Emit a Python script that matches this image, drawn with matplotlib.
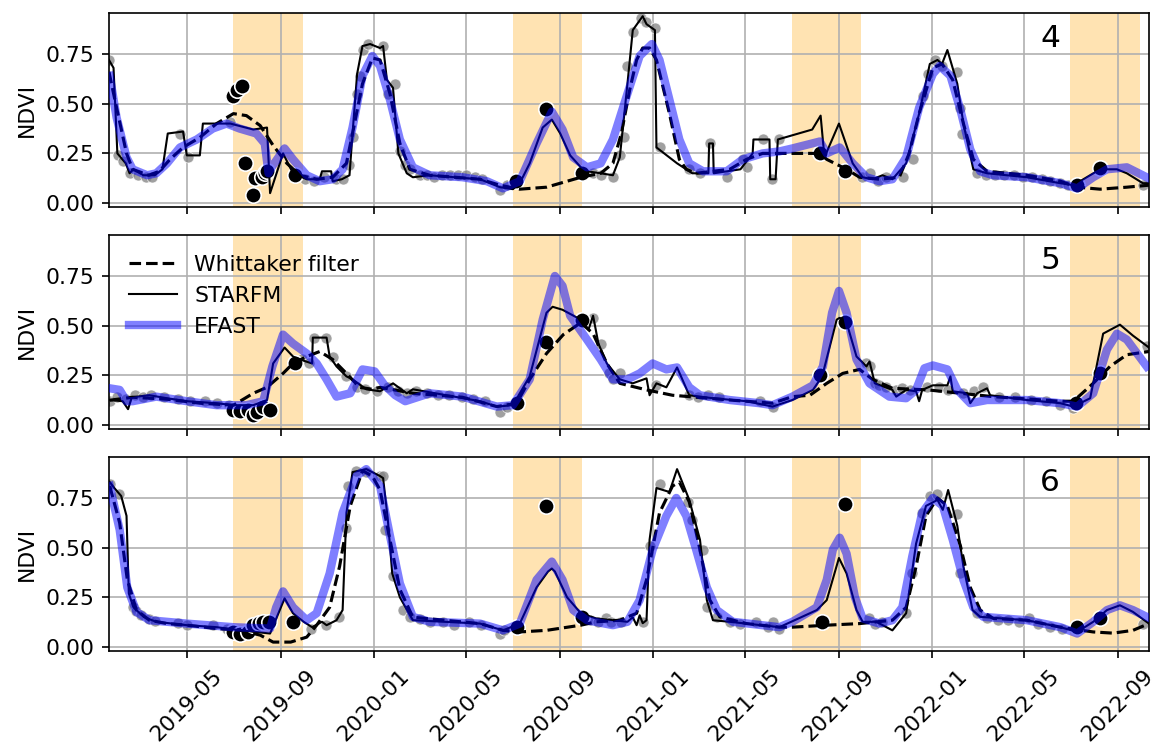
import numpy as np
import pandas as pd
import matplotlib
matplotlib.use('Agg')
import matplotlib.pyplot as plt

# summer windows (shaded)
span_start = ['2019-07-01', '2020-07-01', '2021-07-01', '2022-07-01']
span_end = ['2019-09-30', '2020-09-30', '2021-09-30', '2022-09-30']
panel_labels = ['4', '5', '6']

# ---------------- panel 4 ----------------
p4_whit_d = ['2019-01-19', '2019-01-29', '2019-02-11', '2019-02-19', '2019-03-12', '2019-03-26', '2019-04-09',
             '2019-04-26', '2019-05-18', '2019-06-09', '2019-07-01', '2019-07-18', '2019-08-05', '2019-08-22',
             '2019-09-09', '2019-09-26', '2019-10-18', '2019-11-08', '2019-11-26', '2019-12-04', '2019-12-17',
             '2019-12-30', '2020-01-09', '2020-01-22', '2020-02-04', '2020-02-17', '2020-03-14', '2020-05-19',
             '2020-06-14', '2020-07-10', '2020-08-14', '2020-09-28', '2020-10-24', '2020-11-09', '2020-11-20',
             '2020-12-01', '2020-12-10', '2020-12-18', '2020-12-27', '2021-01-05', '2021-01-22', '2021-02-04',
             '2021-02-13', '2021-02-26', '2021-04-11', '2021-05-03', '2021-05-24', '2021-08-07', '2021-08-16',
             '2021-09-11', '2021-09-28', '2021-10-24', '2021-11-19', '2021-12-02', '2021-12-15', '2022-01-02',
             '2022-01-14', '2022-01-28', '2022-02-11', '2022-02-24', '2022-03-14', '2022-05-05', '2022-06-18',
             '2022-07-10', '2022-08-09', '2022-09-13', '2022-10-12']
p4_whit_v = [0.66, 0.48, 0.25, 0.17, 0.14, 0.16, 0.22, 0.28, 0.33, 0.40, 0.45, 0.44, 0.39, 0.29, 0.20, 0.14,
             0.12, 0.13, 0.20, 0.35, 0.60, 0.73, 0.72, 0.55, 0.30, 0.17, 0.14, 0.12, 0.09, 0.07, 0.08, 0.13,
             0.15, 0.20, 0.35, 0.57, 0.72, 0.78, 0.78, 0.72, 0.45, 0.22, 0.17, 0.15, 0.17, 0.22, 0.25, 0.25,
             0.22, 0.17, 0.13, 0.12, 0.13, 0.25, 0.45, 0.68, 0.70, 0.62, 0.40, 0.22, 0.16, 0.14, 0.11, 0.08,
             0.07, 0.08, 0.09]

p4_starfm_d = ['2019-01-19', '2019-01-25', '2019-01-30', '2019-02-10', '2019-02-15', '2019-02-20', '2019-03-05',
               '2019-03-20', '2019-03-30', '2019-04-06', '2019-04-26', '2019-05-01', '2019-05-18', '2019-05-22',
               '2019-06-04', '2019-06-27', '2019-07-27', '2019-08-14', '2019-08-18', '2019-09-04', '2019-09-17',
               '2019-10-05', '2019-10-22', '2019-10-25', '2019-11-06', '2019-11-08', '2019-11-20', '2019-11-30',
               '2019-12-05', '2019-12-10', '2019-12-17', '2019-12-27', '2020-01-09', '2020-01-13', '2020-01-18',
               '2020-01-26', '2020-02-02', '2020-02-13', '2020-02-21', '2020-03-14', '2020-05-19', '2020-06-14',
               '2020-07-01', '2020-07-10', '2020-07-23', '2020-08-09', '2020-08-21', '2020-09-01', '2020-09-14',
               '2020-09-28', '2020-10-06', '2020-10-24', '2020-11-09', '2020-11-18', '2020-11-28', '2020-12-05',
               '2020-12-18', '2020-12-23', '2021-01-03', '2021-01-05', '2021-02-01', '2021-02-21', '2021-03-14',
               '2021-03-15', '2021-03-20', '2021-03-21', '2021-04-25', '2021-05-11', '2021-05-12', '2021-06-02',
               '2021-06-03', '2021-06-10', '2021-06-13', '2021-07-28', '2021-08-08', '2021-08-13', '2021-09-01',
               '2021-09-19', '2021-10-02', '2021-10-15', '2021-10-28', '2021-11-10', '2021-11-28', '2021-12-15',
               '2021-12-29', '2022-01-08', '2022-01-14', '2022-01-21', '2022-02-03', '2022-02-11', '2022-02-24',
               '2022-03-14', '2022-05-05', '2022-06-18', '2022-07-05', '2022-08-09', '2022-08-31', '2022-09-13',
               '2022-10-04', '2022-10-12']
p4_starfm_v = [0.72, 0.68, 0.25, 0.20, 0.15, 0.17, 0.14, 0.14, 0.17, 0.35, 0.36, 0.24, 0.24, 0.40, 0.40, 0.40,
               0.37, 0.38, 0.05, 0.25, 0.15, 0.12, 0.12, 0.16, 0.16, 0.11, 0.12, 0.14, 0.40, 0.65, 0.79, 0.80,
               0.78, 0.79, 0.62, 0.58, 0.25, 0.15, 0.13, 0.14, 0.12, 0.08, 0.07, 0.10, 0.20, 0.38, 0.42, 0.35,
               0.24, 0.18, 0.16, 0.15, 0.14, 0.23, 0.60, 0.87, 0.94, 0.90, 0.87, 0.28, 0.20, 0.15, 0.15, 0.30,
               0.30, 0.15, 0.17, 0.25, 0.32, 0.32, 0.12, 0.12, 0.32, 0.37, 0.44, 0.23, 0.40, 0.20, 0.13, 0.12,
               0.14, 0.12, 0.20, 0.45, 0.70, 0.72, 0.70, 0.77, 0.60, 0.40, 0.17, 0.15, 0.13, 0.10, 0.09, 0.17,
               0.17, 0.15, 0.10, 0.10]

p4_efast_d = ['2019-01-20', '2019-01-29', '2019-02-11', '2019-02-19', '2019-03-10', '2019-03-22', '2019-04-05',
              '2019-04-22', '2019-05-14', '2019-06-04', '2019-06-22', '2019-07-09', '2019-07-31', '2019-08-11',
              '2019-08-16', '2019-08-20', '2019-09-06', '2019-09-17', '2019-10-05', '2019-10-22', '2019-11-08',
              '2019-11-21', '2019-12-04', '2019-12-17', '2019-12-30', '2020-01-09', '2020-01-22', '2020-02-04',
              '2020-02-21', '2020-03-14', '2020-04-26', '2020-05-28', '2020-06-18', '2020-07-10', '2020-08-01',
              '2020-08-21', '2020-09-04', '2020-09-18', '2020-10-06', '2020-10-24', '2020-11-09', '2020-11-28',
              '2020-12-14', '2020-12-30', '2021-01-09', '2021-01-22', '2021-02-04', '2021-02-17', '2021-03-07',
              '2021-04-07', '2021-04-28', '2021-05-24', '2021-06-15', '2021-07-02', '2021-08-07', '2021-08-16',
              '2021-09-02', '2021-09-19', '2021-10-07', '2021-10-24', '2021-11-10', '2021-11-28', '2021-12-15',
              '2022-01-02', '2022-01-11', '2022-01-25', '2022-02-07', '2022-02-20', '2022-03-05', '2022-03-22',
              '2022-05-05', '2022-06-18', '2022-07-10', '2022-07-31', '2022-08-18', '2022-09-13', '2022-10-09']
p4_efast_v = [0.64, 0.43, 0.23, 0.17, 0.14, 0.15, 0.20, 0.28, 0.32, 0.375, 0.40, 0.375, 0.35, 0.30, 0.15, 0.18,
              0.275, 0.22, 0.14, 0.11, 0.12, 0.17, 0.38, 0.64, 0.74, 0.69, 0.52, 0.32, 0.18, 0.14, 0.13, 0.11,
              0.074, 0.11, 0.30, 0.46, 0.37, 0.23, 0.18, 0.20, 0.32, 0.55, 0.74, 0.80, 0.72, 0.52, 0.32, 0.20,
              0.16, 0.16, 0.22, 0.25, 0.26, 0.275, 0.31, 0.25, 0.28, 0.20, 0.13, 0.11, 0.12, 0.23, 0.48, 0.65,
              0.69, 0.64, 0.47, 0.27, 0.16, 0.14, 0.13, 0.10, 0.074, 0.13, 0.17, 0.18, 0.13]

p4_grey_d = ['2019-01-19', '2019-01-31', '2019-02-06', '2019-02-16', '2019-02-26', '2019-03-08', '2019-03-16',
             '2019-04-22', '2019-05-02', '2019-06-27', '2019-10-03', '2019-10-15', '2019-10-28', '2019-11-12',
             '2019-11-22', '2019-11-30', '2019-12-05', '2019-12-10', '2019-12-14', '2019-12-18', '2019-12-24',
             '2020-01-13', '2020-01-20', '2020-01-29', '2020-02-04', '2020-02-11', '2020-02-17', '2020-03-01',
             '2020-03-10', '2020-03-20', '2020-03-30', '2020-04-10', '2020-04-20', '2020-05-01', '2020-05-12',
             '2020-05-22', '2020-06-14', '2020-06-23', '2020-10-14', '2020-10-24', '2020-11-09', '2020-11-18',
             '2020-11-24', '2020-11-28', '2020-12-05', '2020-12-16', '2020-12-22', '2021-01-03', '2021-01-09',
             '2021-02-17', '2021-03-03', '2021-03-16', '2021-04-07', '2021-04-28', '2021-05-03', '2021-05-24',
             '2021-06-05', '2021-06-14', '2021-10-01', '2021-10-12', '2021-10-22', '2021-11-02', '2021-11-24',
             '2021-12-07', '2021-12-20', '2021-12-27', '2022-01-05', '2022-01-14', '2022-02-03', '2022-02-07',
             '2022-02-09', '2022-03-01', '2022-03-12', '2022-03-25', '2022-04-05', '2022-04-18', '2022-04-30',
             '2022-05-12', '2022-05-25', '2022-06-05', '2022-06-18', '2022-06-28', '2022-10-04']
p4_grey_v = [0.72, 0.24, 0.21, 0.15, 0.14, 0.13, 0.13, 0.35, 0.23, 0.41, 0.12, 0.11, 0.13, 0.12, 0.12, 0.19,
             0.33, 0.55, 0.64, 0.77, 0.80, 0.79, 0.55, 0.60, 0.26, 0.19, 0.17, 0.14, 0.14, 0.13, 0.14, 0.14,
             0.14, 0.14, 0.13, 0.12, 0.065, 0.09, 0.15, 0.14, 0.13, 0.24, 0.33, 0.69, 0.86, 0.93, 0.91, 0.88,
             0.28, 0.17, 0.15, 0.30, 0.13, 0.22, 0.18, 0.32, 0.12, 0.32, 0.13, 0.15, 0.11, 0.13, 0.13, 0.22,
             0.54, 0.65, 0.72, 0.69, 0.66, 0.48, 0.35, 0.15, 0.14, 0.14, 0.14, 0.14, 0.13, 0.13, 0.12, 0.11,
             0.10, 0.09, 0.09]

p4_black_d = ['2019-07-01', '2019-07-06', '2019-07-12', '2019-07-16', '2019-07-27', '2019-07-29', '2019-08-08',
              '2019-08-11', '2019-08-14', '2019-09-20', '2020-07-05', '2020-08-14', '2020-09-30', '2021-08-07',
              '2021-09-09', '2022-07-10', '2022-08-09']
p4_black_v = [0.54, 0.57, 0.59, 0.20, 0.04, 0.125, 0.13, 0.15, 0.16, 0.14, 0.11, 0.475, 0.15, 0.25, 0.16,
              0.09, 0.175]

# ---------------- panel 5 ----------------
p5_whit_d = ['2019-01-20', '2019-02-19', '2019-04-05', '2019-05-18', '2019-07-01', '2019-07-27', '2019-08-14',
             '2019-09-04', '2019-09-17', '2019-10-05', '2019-10-22', '2019-11-08', '2019-11-26', '2019-12-13',
             '2019-12-30', '2020-01-09', '2020-02-21', '2020-04-26', '2020-06-10', '2020-07-06', '2020-07-23',
             '2020-08-14', '2020-09-05', '2020-09-28', '2020-10-14', '2020-11-01', '2020-11-18', '2020-12-23',
             '2021-01-26', '2021-02-17', '2021-04-11', '2021-06-06', '2021-07-02', '2021-07-25', '2021-08-16',
             '2021-09-06', '2021-09-28', '2021-10-15', '2021-11-10', '2021-12-26', '2022-02-07', '2022-03-22',
             '2022-06-18', '2022-07-05', '2022-07-31', '2022-08-22', '2022-09-13', '2022-10-12']
p5_whit_v = [0.125, 0.14, 0.13, 0.11, 0.10, 0.16, 0.19, 0.26, 0.31, 0.345, 0.37, 0.33, 0.26, 0.19, 0.18, 0.19,
             0.16, 0.14, 0.093, 0.11, 0.23, 0.36, 0.455, 0.515, 0.46, 0.31, 0.21, 0.177, 0.15, 0.143, 0.126,
             0.11, 0.143, 0.15, 0.21, 0.26, 0.28, 0.23, 0.185, 0.177, 0.16, 0.143, 0.12, 0.12, 0.21, 0.295,
             0.354, 0.37]

p5_starfm_d = ['2019-01-20', '2019-02-06', '2019-02-13', '2019-02-18', '2019-03-13', '2019-04-05', '2019-05-01',
               '2019-06-09', '2019-07-01', '2019-07-27', '2019-08-14', '2019-08-22', '2019-09-06', '2019-09-17',
               '2019-09-26', '2019-10-12', '2019-10-13', '2019-10-31', '2019-11-04', '2019-11-13', '2019-11-26',
               '2019-12-04', '2019-12-22', '2020-01-09', '2020-01-26', '2020-02-13', '2020-02-21', '2020-04-05',
               '2020-05-19', '2020-06-10', '2020-07-01', '2020-07-23', '2020-08-14', '2020-08-22', '2020-09-04',
               '2020-09-28', '2020-10-08', '2020-10-14', '2020-10-21', '2020-11-01', '2020-11-18', '2020-12-05',
               '2020-12-23', '2020-12-27', '2021-01-05', '2021-01-18', '2021-02-01', '2021-02-17', '2021-03-20',
               '2021-05-03', '2021-06-06', '2021-07-02', '2021-07-29', '2021-08-10', '2021-08-29', '2021-09-02',
               '2021-09-11', '2021-09-24', '2021-10-07', '2021-10-11', '2021-10-18', '2021-11-10', '2021-11-15',
               '2021-11-28', '2021-12-11', '2021-12-15', '2021-12-19', '2022-01-02', '2022-01-21', '2022-01-25',
               '2022-01-28', '2022-02-16', '2022-02-20', '2022-03-01', '2022-03-14', '2022-03-18', '2022-05-05',
               '2022-06-18', '2022-07-05', '2022-07-27', '2022-08-13', '2022-09-04', '2022-09-21', '2022-10-12']
p5_starfm_v = [0.126, 0.12, 0.08, 0.14, 0.15, 0.135, 0.12, 0.11, 0.10, 0.10, 0.126, 0.31, 0.39, 0.345, 0.33,
               0.31, 0.44, 0.44, 0.345, 0.295, 0.245, 0.23, 0.18, 0.17, 0.21, 0.16, 0.18, 0.15, 0.12, 0.093,
               0.10, 0.245, 0.565, 0.595, 0.58, 0.53, 0.48, 0.55, 0.41, 0.31, 0.23, 0.21, 0.235, 0.15, 0.21,
               0.19, 0.29, 0.15, 0.135, 0.12, 0.093, 0.126, 0.177, 0.245, 0.53, 0.54, 0.515, 0.345, 0.295,
               0.32, 0.21, 0.177, 0.143, 0.177, 0.17, 0.12, 0.177, 0.20, 0.20, 0.245, 0.17, 0.16, 0.11, 0.16,
               0.185, 0.15, 0.126, 0.11, 0.093, 0.135, 0.46, 0.505, 0.45, 0.39]

p5_efast_d = ['2019-01-20', '2019-02-02', '2019-02-11', '2019-02-19', '2019-03-22', '2019-05-01', '2019-06-09',
              '2019-07-18', '2019-08-09', '2019-08-21', '2019-09-04', '2019-09-17', '2019-10-05', '2019-10-18',
              '2019-10-31', '2019-11-13', '2019-12-01', '2019-12-17', '2020-01-02', '2020-01-15', '2020-01-29',
              '2020-02-11', '2020-03-14', '2020-04-26', '2020-06-10', '2020-07-01', '2020-07-23', '2020-08-09',
              '2020-08-25', '2020-09-04', '2020-09-14', '2020-10-06', '2020-10-24', '2020-11-09', '2020-11-28',
              '2020-12-14', '2020-12-31', '2021-01-18', '2021-02-01', '2021-02-17', '2021-03-03', '2021-04-11',
              '2021-05-20', '2021-06-06', '2021-07-02', '2021-07-29', '2021-08-11', '2021-08-23', '2021-09-01',
              '2021-09-11', '2021-09-24', '2021-10-11', '2021-11-06', '2021-11-28', '2021-12-11', '2021-12-22',
              '2022-01-02', '2022-01-21', '2022-02-03', '2022-02-20', '2022-03-14', '2022-05-05', '2022-06-18',
              '2022-07-10', '2022-07-31', '2022-08-18', '2022-08-31', '2022-09-13', '2022-10-09']
p5_efast_v = [0.185, 0.177, 0.12, 0.12, 0.143, 0.12, 0.10, 0.10, 0.12, 0.295, 0.455, 0.41, 0.36, 0.31, 0.23,
              0.143, 0.16, 0.28, 0.27, 0.20, 0.15, 0.12, 0.16, 0.143, 0.093, 0.10, 0.23, 0.53, 0.75, 0.70,
              0.55, 0.43, 0.33, 0.23, 0.23, 0.26, 0.31, 0.28, 0.29, 0.19, 0.15, 0.126, 0.11, 0.10, 0.143,
              0.20, 0.295, 0.565, 0.675, 0.565, 0.33, 0.21, 0.143, 0.135, 0.177, 0.286, 0.30, 0.28, 0.177,
              0.11, 0.126, 0.126, 0.11, 0.093, 0.16, 0.38, 0.46, 0.43, 0.295]

p5_grey_d = ['2019-01-20', '2019-01-30', '2019-02-10', '2019-02-22', '2019-03-05', '2019-03-15', '2019-04-01',
             '2019-04-20', '2019-05-05', '2019-05-25', '2019-06-10', '2019-06-25', '2019-07-01', '2019-07-05',
             '2019-09-29', '2019-10-08', '2019-10-14', '2019-10-30', '2019-11-09', '2019-11-26', '2019-12-10',
             '2019-12-20', '2020-01-05', '2020-01-20', '2020-02-01', '2020-02-13', '2020-02-25', '2020-03-10',
             '2020-03-25', '2020-04-08', '2020-04-25', '2020-05-10', '2020-05-25', '2020-06-14', '2020-06-23',
             '2020-10-14', '2020-10-24', '2020-11-04', '2020-11-09', '2020-11-18', '2021-01-05', '2021-02-17',
             '2021-03-01', '2021-03-14', '2021-03-28', '2021-05-20', '2021-06-06', '2021-10-07', '2021-10-12',
             '2021-10-18', '2021-10-24', '2021-11-02', '2021-11-15', '2021-11-23', '2021-12-03', '2021-12-25',
             '2022-01-10', '2022-01-22', '2022-02-10', '2022-02-25', '2022-03-09', '2022-03-30', '2022-04-20',
             '2022-05-10', '2022-05-30', '2022-06-18', '2022-07-05', '2022-10-09']
p5_grey_v = [0.12, 0.14, 0.13, 0.15, 0.14, 0.15, 0.14, 0.13, 0.12, 0.12, 0.11, 0.10, 0.08, 0.075, 0.33, 0.31,
             0.44, 0.44, 0.34, 0.245, 0.19, 0.18, 0.17, 0.19, 0.17, 0.16, 0.17, 0.16, 0.15, 0.15, 0.14, 0.13,
             0.12, 0.067, 0.09, 0.54, 0.41, 0.26, 0.23, 0.26, 0.20, 0.15, 0.14, 0.15, 0.14, 0.12, 0.093, 0.31,
             0.295, 0.21, 0.20, 0.19, 0.177, 0.185, 0.177, 0.19, 0.19, 0.177, 0.16, 0.17, 0.19, 0.143, 0.143,
             0.126, 0.12, 0.10, 0.084, 0.40]

p5_black_d = ['2019-07-01', '2019-07-10', '2019-07-20', '2019-07-27', '2019-08-01', '2019-08-09', '2019-08-18',
              '2019-09-20', '2020-07-06', '2020-08-14', '2020-09-30', '2021-08-07', '2021-09-09', '2022-07-08',
              '2022-08-09']
p5_black_v = [0.076, 0.07, 0.076, 0.05, 0.067, 0.093, 0.076, 0.31, 0.11, 0.42, 0.53, 0.253, 0.52, 0.11, 0.26]

# ---------------- panel 6 ----------------
p6_whit_d = ['2019-01-20', '2019-02-02', '2019-02-12', '2019-02-24', '2019-03-13', '2019-04-05', '2019-05-01',
             '2019-06-09', '2019-07-09', '2019-08-05', '2019-08-22', '2019-09-14', '2019-10-05', '2019-10-18',
             '2019-11-04', '2019-11-17', '2019-12-01', '2019-12-17', '2019-12-30', '2020-01-09', '2020-01-22',
             '2020-02-04', '2020-02-21', '2020-05-19', '2020-06-18', '2020-07-10', '2020-08-14', '2020-09-28',
             '2020-10-18', '2020-11-18', '2020-12-10', '2020-12-23', '2021-01-09', '2021-01-26', '2021-02-04',
             '2021-02-17', '2021-03-03', '2021-03-16', '2021-03-29', '2021-05-03', '2021-06-15', '2021-07-02',
             '2021-08-16', '2021-09-28', '2021-11-10', '2021-11-28', '2021-12-11', '2021-12-24', '2022-01-08',
             '2022-01-21', '2022-02-07', '2022-02-20', '2022-03-05', '2022-03-22', '2022-05-05', '2022-06-18',
             '2022-07-31', '2022-08-26', '2022-09-21', '2022-10-12']
p6_whit_v = [0.81, 0.625, 0.34, 0.186, 0.135, 0.118, 0.11, 0.093, 0.085, 0.06, 0.025, 0.025, 0.05, 0.11, 0.20,
             0.405, 0.71, 0.887, 0.86, 0.79, 0.54, 0.29, 0.15, 0.118, 0.084, 0.076, 0.084, 0.11, 0.127, 0.135,
             0.17, 0.338, 0.675, 0.81, 0.83, 0.73, 0.49, 0.236, 0.152, 0.118, 0.10, 0.10, 0.11, 0.118, 0.135,
             0.20, 0.405, 0.66, 0.75, 0.71, 0.51, 0.30, 0.186, 0.144, 0.135, 0.10, 0.076, 0.07, 0.084, 0.118]

p6_starfm_d = ['2019-01-20', '2019-01-26', '2019-02-04', '2019-02-11', '2019-02-14', '2019-02-20', '2019-03-06',
               '2019-03-22', '2019-05-01', '2019-06-09', '2019-07-09', '2019-08-18', '2019-09-06', '2019-09-17',
               '2019-10-01', '2019-10-12', '2019-10-25', '2019-10-31', '2019-11-13', '2019-11-21', '2019-11-26',
               '2019-12-04', '2019-12-22', '2020-01-09', '2020-01-13', '2020-01-19', '2020-01-25', '2020-02-04',
               '2020-02-21', '2020-05-19', '2020-06-18', '2020-07-10', '2020-08-01', '2020-08-16', '2020-08-21',
               '2020-08-25', '2020-09-10', '2020-09-28', '2020-10-18', '2020-11-09', '2020-11-28', '2020-12-05',
               '2020-12-10', '2020-12-14', '2020-12-18', '2020-12-23', '2020-12-27', '2021-01-05', '2021-01-22',
               '2021-02-01', '2021-02-17', '2021-03-03', '2021-03-12', '2021-03-20', '2021-04-11', '2021-06-15',
               '2021-08-03', '2021-08-16', '2021-09-01', '2021-09-11', '2021-09-24', '2021-10-02', '2021-10-20',
               '2021-11-10', '2021-11-19', '2021-11-28', '2021-12-11', '2021-12-24', '2022-01-08', '2022-01-15',
               '2022-01-22', '2022-02-03', '2022-02-11', '2022-02-23', '2022-03-05', '2022-05-05', '2022-06-18',
               '2022-07-10', '2022-07-31', '2022-08-18', '2022-09-04', '2022-09-21', '2022-10-12']
p6_starfm_v = [0.83, 0.80, 0.76, 0.66, 0.27, 0.20, 0.15, 0.127, 0.11, 0.10, 0.085, 0.068, 0.245, 0.17, 0.127,
               0.10, 0.127, 0.11, 0.135, 0.186, 0.675, 0.88, 0.895, 0.86, 0.85, 0.65, 0.37, 0.25, 0.135, 0.118,
               0.084, 0.118, 0.30, 0.38, 0.395, 0.38, 0.25, 0.17, 0.144, 0.135, 0.127, 0.15, 0.11, 0.16, 0.12,
               0.135, 0.54, 0.80, 0.78, 0.895, 0.74, 0.54, 0.236, 0.135, 0.127, 0.10, 0.186, 0.236, 0.448,
               0.37, 0.186, 0.127, 0.127, 0.084, 0.127, 0.17, 0.52, 0.71, 0.74, 0.69, 0.79, 0.61, 0.405, 0.186,
               0.152, 0.135, 0.10, 0.076, 0.127, 0.186, 0.21, 0.177, 0.118]

p6_efast_d = ['2019-01-20', '2019-02-02', '2019-02-12', '2019-02-24', '2019-03-13', '2019-05-01', '2019-07-01',
              '2019-08-18', '2019-08-26', '2019-09-04', '2019-09-17', '2019-10-05', '2019-10-18', '2019-11-04',
              '2019-11-21', '2019-12-09', '2019-12-22', '2020-01-09', '2020-01-22', '2020-02-04', '2020-02-21',
              '2020-03-14', '2020-05-19', '2020-06-18', '2020-07-10', '2020-08-01', '2020-08-21', '2020-09-04',
              '2020-09-18', '2020-10-06', '2020-11-09', '2020-11-28', '2020-12-14', '2020-12-31', '2021-01-18',
              '2021-01-31', '2021-02-13', '2021-02-26', '2021-03-12', '2021-03-25', '2021-04-15', '2021-06-15',
              '2021-07-02', '2021-08-03', '2021-08-16', '2021-08-24', '2021-09-02', '2021-09-11', '2021-09-22',
              '2021-10-02', '2021-10-24', '2021-11-10', '2021-11-23', '2021-12-06', '2021-12-19', '2022-01-02',
              '2022-01-15', '2022-01-28', '2022-02-11', '2022-02-24', '2022-03-09', '2022-05-05', '2022-06-18',
              '2022-07-10', '2022-07-31', '2022-08-18', '2022-09-04', '2022-09-21', '2022-10-09']
p6_efast_v = [0.81, 0.59, 0.30, 0.177, 0.135, 0.118, 0.10, 0.093, 0.20, 0.28, 0.20, 0.135, 0.17, 0.37, 0.675,
              0.86, 0.895, 0.81, 0.56, 0.32, 0.152, 0.127, 0.118, 0.084, 0.118, 0.338, 0.43, 0.338, 0.186,
              0.135, 0.11, 0.127, 0.236, 0.49, 0.66, 0.75, 0.66, 0.49, 0.30, 0.186, 0.127, 0.10, 0.127, 0.20,
              0.338, 0.49, 0.55, 0.47, 0.25, 0.144, 0.118, 0.135, 0.20, 0.456, 0.675, 0.75, 0.71, 0.54, 0.338,
              0.20, 0.152, 0.135, 0.10, 0.068, 0.127, 0.186, 0.21, 0.186, 0.152]

p6_grey_d = ['2019-01-20', '2019-02-01', '2019-02-20', '2019-02-24', '2019-03-02', '2019-03-12', '2019-03-20',
             '2019-04-20', '2019-05-01', '2019-06-04', '2019-06-22', '2019-07-01', '2019-10-10', '2019-10-30',
             '2019-11-16', '2019-11-25', '2019-11-28', '2019-12-09', '2019-12-22', '2020-01-09', '2020-01-13',
             '2020-01-15', '2020-01-26', '2020-02-08', '2020-02-17', '2020-03-01', '2020-03-14', '2020-04-01',
             '2020-04-15', '2020-05-05', '2020-05-20', '2020-06-14', '2020-06-20', '2020-10-10', '2020-10-20',
             '2020-10-31', '2020-11-06', '2020-11-20', '2020-12-18', '2020-12-27', '2021-01-09', '2021-02-15',
             '2021-02-21', '2021-03-07', '2021-03-12', '2021-03-25', '2021-04-11', '2021-04-25', '2021-05-15',
             '2021-05-31', '2021-06-06', '2021-06-15', '2021-10-11', '2021-10-18', '2021-10-28', '2021-11-28',
             '2021-12-06', '2021-12-19', '2021-12-29', '2022-01-08', '2022-02-03', '2022-02-07', '2022-03-01',
             '2022-03-14', '2022-03-28', '2022-04-10', '2022-04-25', '2022-05-08', '2022-05-20', '2022-06-05',
             '2022-06-20', '2022-10-04']
p6_grey_v = [0.82, 0.77, 0.20, 0.18, 0.16, 0.14, 0.13, 0.12, 0.11, 0.11, 0.093, 0.076, 0.093, 0.11, 0.152, 0.60,
             0.81, 0.887, 0.88, 0.86, 0.86, 0.59, 0.355, 0.186, 0.15, 0.143, 0.127, 0.127, 0.11, 0.127, 0.11,
             0.068, 0.084, 0.135, 0.127, 0.144, 0.127, 0.127, 0.127, 0.51, 0.82, 0.73, 0.64, 0.49, 0.20, 0.152,
             0.127, 0.118, 0.127, 0.10, 0.127, 0.093, 0.144, 0.118, 0.127, 0.17, 0.37, 0.675, 0.76, 0.77, 0.67,
             0.37, 0.17, 0.144, 0.135, 0.135, 0.127, 0.144, 0.118, 0.10, 0.093, 0.118]

p6_black_d = ['2019-07-01', '2019-07-10', '2019-07-20', '2019-07-27', '2019-08-03', '2019-08-09', '2019-08-16',
              '2019-09-17', '2020-07-06', '2020-08-14', '2020-09-30', '2021-08-10', '2021-09-09', '2022-07-10',
              '2022-08-09']
p6_black_v = [0.076, 0.068, 0.076, 0.11, 0.12, 0.127, 0.127, 0.127, 0.10, 0.71, 0.152, 0.127, 0.72, 0.10, 0.144]

panels = [
    (p4_whit_d, p4_whit_v, p4_starfm_d, p4_starfm_v, p4_efast_d, p4_efast_v,
     p4_grey_d, p4_grey_v, p4_black_d, p4_black_v),
    (p5_whit_d, p5_whit_v, p5_starfm_d, p5_starfm_v, p5_efast_d, p5_efast_v,
     p5_grey_d, p5_grey_v, p5_black_d, p5_black_v),
    (p6_whit_d, p6_whit_v, p6_starfm_d, p6_starfm_v, p6_efast_d, p6_efast_v,
     p6_grey_d, p6_grey_v, p6_black_d, p6_black_v),
]

fs = 10.5
plt.rcParams['font.family'] = ['DejaVu Sans']
plt.rcParams['font.size'] = fs

fig, axes = plt.subplots(3, 1, sharex=True, sharey=True, figsize=(1153 / 150, 749 / 150), dpi=150)
fig.subplots_adjust(left=0.0945, right=0.9965, top=0.9826, bottom=0.1308, hspace=0.144)

for ax, p, lab in zip(axes, panels, panel_labels):
    wd, wv, sd, sv, ed, ev, gd, gv, bd, bv = p
    for s0, s1 in zip(span_start, span_end):
        ax.axvspan(pd.to_datetime(s0), pd.to_datetime(s1), color='orange', alpha=0.3, lw=0, zorder=0)
    ax.grid(True)
    ax.scatter(pd.to_datetime(gd), gv, s=28, c='grey', alpha=0.75, edgecolors='white', linewidths=0.4, zorder=2)
    ax.scatter(pd.to_datetime(bd), bv, s=55, c='black', edgecolors='white', linewidths=0.8, zorder=2)
    ax.plot(pd.to_datetime(wd), wv, 'k--', lw=1.5, label='Whittaker filter', zorder=3)
    ax.plot(pd.to_datetime(sd), sv, 'k-', lw=1.0, label='STARFM', zorder=3)
    ax.plot(pd.to_datetime(ed), ev, color='blue', alpha=0.5, lw=4, label='EFAST', zorder=3)
    ax.set_ylabel('NDVI', fontsize=fs)
    ax.tick_params(labelsize=fs)
    ax.text(0.905, 0.87, lab, transform=ax.transAxes, fontsize=15, ha='center', va='center')

axes[0].set_ylim(-0.02, 0.956)
axes[0].set_yticks([0.0, 0.25, 0.5, 0.75])
axes[0].set_xlim(pd.to_datetime('2019-01-19'), pd.to_datetime('2022-10-12'))
axes[1].legend(loc='upper left', frameon=False, handlelength=2.2, fontsize=fs)
axes[2].tick_params(axis='x', rotation=45)

plt.savefig('out.png', dpi=150)
